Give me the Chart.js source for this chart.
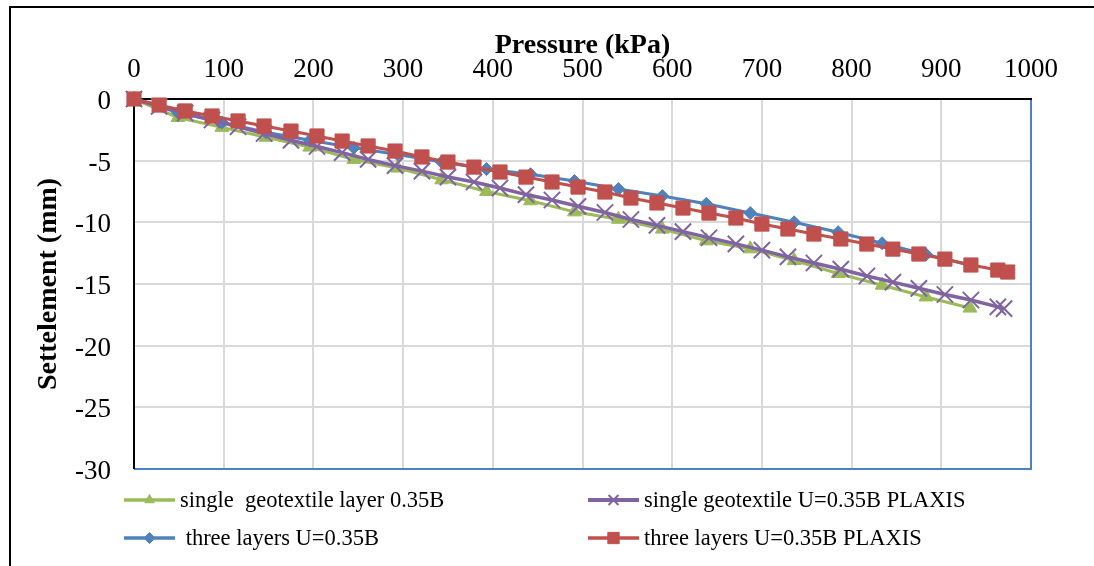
<!DOCTYPE html>
<html>
<head>
<meta charset="utf-8">
<script src="https://cdn.jsdelivr.net/npm/chart.js@4/dist/chart.umd.min.js"></script>
<style>
  html, body { margin: 0; padding: 0; background: #fff; }
  #wrap { position: relative; width: 1094px; height: 566px; overflow: hidden; }
  #frame { position: absolute; left: 9px; top: 6px; width: 1200px; height: 700px;
           border-left: 2px solid #000; border-top: 2px solid #000; }
  canvas { position: absolute; left: 0; top: 0; }
</style>
</head>
<body>
<div id="wrap">
  <div id="frame"></div>
  <canvas id="c" width="1094" height="566"></canvas>
</div>
<script>
// ---- data ----
const xTitle = 'Pressure (kPa)';
const yTitle = 'Settelement (mm)';

const seriesNames = [
  'single  geotextile layer 0.35B',
  'single geotextile U=0.35B PLAXIS',
  ' three layers U=0.35B',
  'three layers U=0.35B PLAXIS'
];

const singleLayerX = [0, 49, 98, 147, 196, 245, 294, 343, 393, 442, 491, 540, 589, 638, 687, 736, 785, 834, 883, 932];
const singleLayerY = [0, -1.5, -2.3, -3.1, -3.9, -4.9, -5.6, -6.55, -7.5, -8.25, -9.15, -9.75, -10.55, -11.5, -12.15, -13.1, -14.15, -15.1, -16.05, -16.95];

const singlePlaxisX = [0, 28, 57, 87, 116, 145, 175, 204, 232, 261, 291, 321, 350, 379, 408, 437, 466, 495, 525, 554, 583, 612, 641, 671, 700, 729, 758, 788, 817, 846, 875, 904, 933, 963, 970];
const singlePlaxisY = [0, -0.6, -1.15, -1.7, -2.25, -2.8, -3.35, -3.85, -4.35, -4.9, -5.4, -5.85, -6.33, -6.73, -7.22, -7.75, -8.19, -8.7, -9.2, -9.77, -10.25, -10.75, -11.25, -11.75, -12.25, -12.8, -13.3, -13.8, -14.35, -14.85, -15.35, -15.85, -16.3, -16.85, -17.0];

const threeLayersX = [0, 49, 98, 147, 196, 245, 294, 343, 393, 442, 491, 540, 589, 638, 687, 736, 785, 834, 883, 933];
const threeLayersY = [0, -1.1, -1.9, -2.7, -3.35, -3.95, -4.5, -5.1, -5.68, -6.1, -6.65, -7.3, -7.87, -8.5, -9.25, -10.0, -10.8, -11.7, -12.6, -13.5];

const threePlaxisX = [0, 28, 57, 87, 116, 145, 175, 204, 232, 261, 291, 321, 350, 379, 408, 437, 466, 495, 525, 554, 583, 612, 641, 671, 700, 729, 758, 788, 817, 846, 875, 904, 933, 963, 974];
const threePlaxisY = [0, -0.49, -0.97, -1.38, -1.78, -2.19, -2.6, -3.0, -3.41, -3.81, -4.22, -4.7, -5.11, -5.52, -5.92, -6.33, -6.73, -7.14, -7.54, -8.03, -8.43, -8.84, -9.25, -9.65, -10.14, -10.54, -10.95, -11.35, -11.76, -12.17, -12.57, -12.98, -13.46, -13.87, -14.03];

const xMin = 0, xMax = 1000, xStep = 100;
const yMin = -30, yMax = 0, yStep = 5;

// ---- build ----
function pts(xs, ys) { return xs.map((x, i) => ({ x: x, y: ys[i] })); }

const FONT = '"Liberation Serif", "Times New Roman", serif';

const styles = [
  { color: '#9bbb59', pointStyle: 'triangle', radius: 8, lw: 3, pbw: 1, legendR: 5.5 },
  { color: '#8064a2', pointStyle: 'crossRot', radius: 11.5, lw: 3.5, pbw: 2, legendR: 7 },
  { color: '#4f81bd', pointStyle: 'rectRot', radius: 6.5, lw: 3, pbw: 1, legendR: 5.5 },
  { color: '#c0504d', pointStyle: 'rect', radius: 10, lw: 3, pbw: 1, legendR: 8 }
];
const allData = [
  pts(singleLayerX, singleLayerY),
  pts(singlePlaxisX, singlePlaxisY),
  pts(threeLayersX, threeLayersY),
  pts(threePlaxisX, threePlaxisY)
];
const drawOrder = [3, 1, 2, 0]; // lower = on top

const datasets = allData.map((d, i) => ({
  label: seriesNames[i],
  data: d,
  borderColor: styles[i].color,
  backgroundColor: styles[i].color,
  borderWidth: styles[i].lw,
  pointStyle: styles[i].pointStyle,
  pointRadius: styles[i].radius,
  pointBorderWidth: styles[i].pbw,
  pointBorderColor: styles[i].color,
  pointBackgroundColor: styles[i].color,
  tension: 0,
  clip: false,
  order: drawOrder[i]
}));

const framePlugin = {
  id: 'framePlugin',
  beforeDatasetsDraw(chart) {
    const { ctx, chartArea: a } = chart;
    ctx.save();
    ctx.lineWidth = 2;
    ctx.strokeStyle = '#4f81bd';
    ctx.beginPath();
    ctx.moveTo(a.right, a.top);
    ctx.lineTo(a.right, a.bottom);
    ctx.lineTo(a.left, a.bottom);
    ctx.stroke();
    ctx.strokeStyle = '#000';
    ctx.beginPath();
    ctx.moveTo(a.left, a.bottom);
    ctx.lineTo(a.left, a.top);
    ctx.lineTo(a.right + 1, a.top);
    ctx.stroke();
    ctx.restore();
  }
};

const legendPlugin = {
  id: 'legendPlugin',
  afterDraw(chart) {
    const ctx = chart.ctx;
    const cols = [124, 588];
    const rows = [500, 538];
    const lineLen = 51;
    ctx.save();
    ctx.font = '22.5px ' + FONT;
    ctx.textBaseline = 'middle';
    ctx.fillStyle = '#000';
    seriesNames.forEach((name, i) => {
      const col = i % 2, row = Math.floor(i / 2);
      const x0 = cols[col], y = rows[row];
      const s = styles[i];
      ctx.strokeStyle = s.color;
      ctx.lineWidth = s.lw + 0.5;
      ctx.beginPath();
      ctx.moveTo(x0, y);
      ctx.lineTo(x0 + lineLen, y);
      ctx.stroke();
      ctx.fillStyle = s.color;
      ctx.strokeStyle = s.color;
      ctx.lineWidth = s.pbw;
      Chart.helpers.drawPoint(ctx, { pointStyle: s.pointStyle, radius: s.legendR, rotation: 0, borderWidth: s.pbw }, x0 + lineLen / 2, y);
      ctx.fillStyle = '#000';
      ctx.fillText(name, x0 + lineLen + 5, y + 1);
    });
    ctx.restore();
  }
};

new Chart(document.getElementById('c'), {
  type: 'line',
  data: { datasets: datasets },
  plugins: [framePlugin, legendPlugin],
  options: {
    responsive: false,
    animation: false,
    layout: { padding: { left: 0, top: 0, right: 63, bottom: 97 } },
    plugins: { legend: { display: false }, tooltip: { enabled: false } },
    elements: { line: { fill: false } },
    scales: {
      x: {
        type: 'linear',
        position: 'top',
        min: xMin, max: xMax,
        afterFit(scale) { scale.height = 99; },
        ticks: { stepSize: xStep, color: '#000', font: { family: FONT, size: 27 }, padding: 13, maxRotation: 0,
                 callback: (v) => String(v) },
        grid: { color: '#d9d9d9', lineWidth: 2, drawTicks: false },
        border: { display: false },
        title: { display: true, text: xTitle, color: '#000', font: { family: FONT, size: 28, weight: 'bold' }, padding: { top: 29, bottom: 0 } }
      },
      y: {
        type: 'linear',
        min: yMin, max: yMax,
        afterFit(scale) { scale.width = 134; },
        ticks: { stepSize: yStep, color: '#000', font: { family: FONT, size: 27 }, padding: 23, labelOffset: 3,
                 callback: (v) => String(v) },
        grid: { color: '#d9d9d9', lineWidth: 2, drawTicks: false },
        border: { display: false },
        title: { display: true, text: yTitle, color: '#000', font: { family: FONT, size: 28, weight: 'bold' }, padding: { top: 32, bottom: 0 } }
      }
    }
  }
});
</script>
</body>
</html>
